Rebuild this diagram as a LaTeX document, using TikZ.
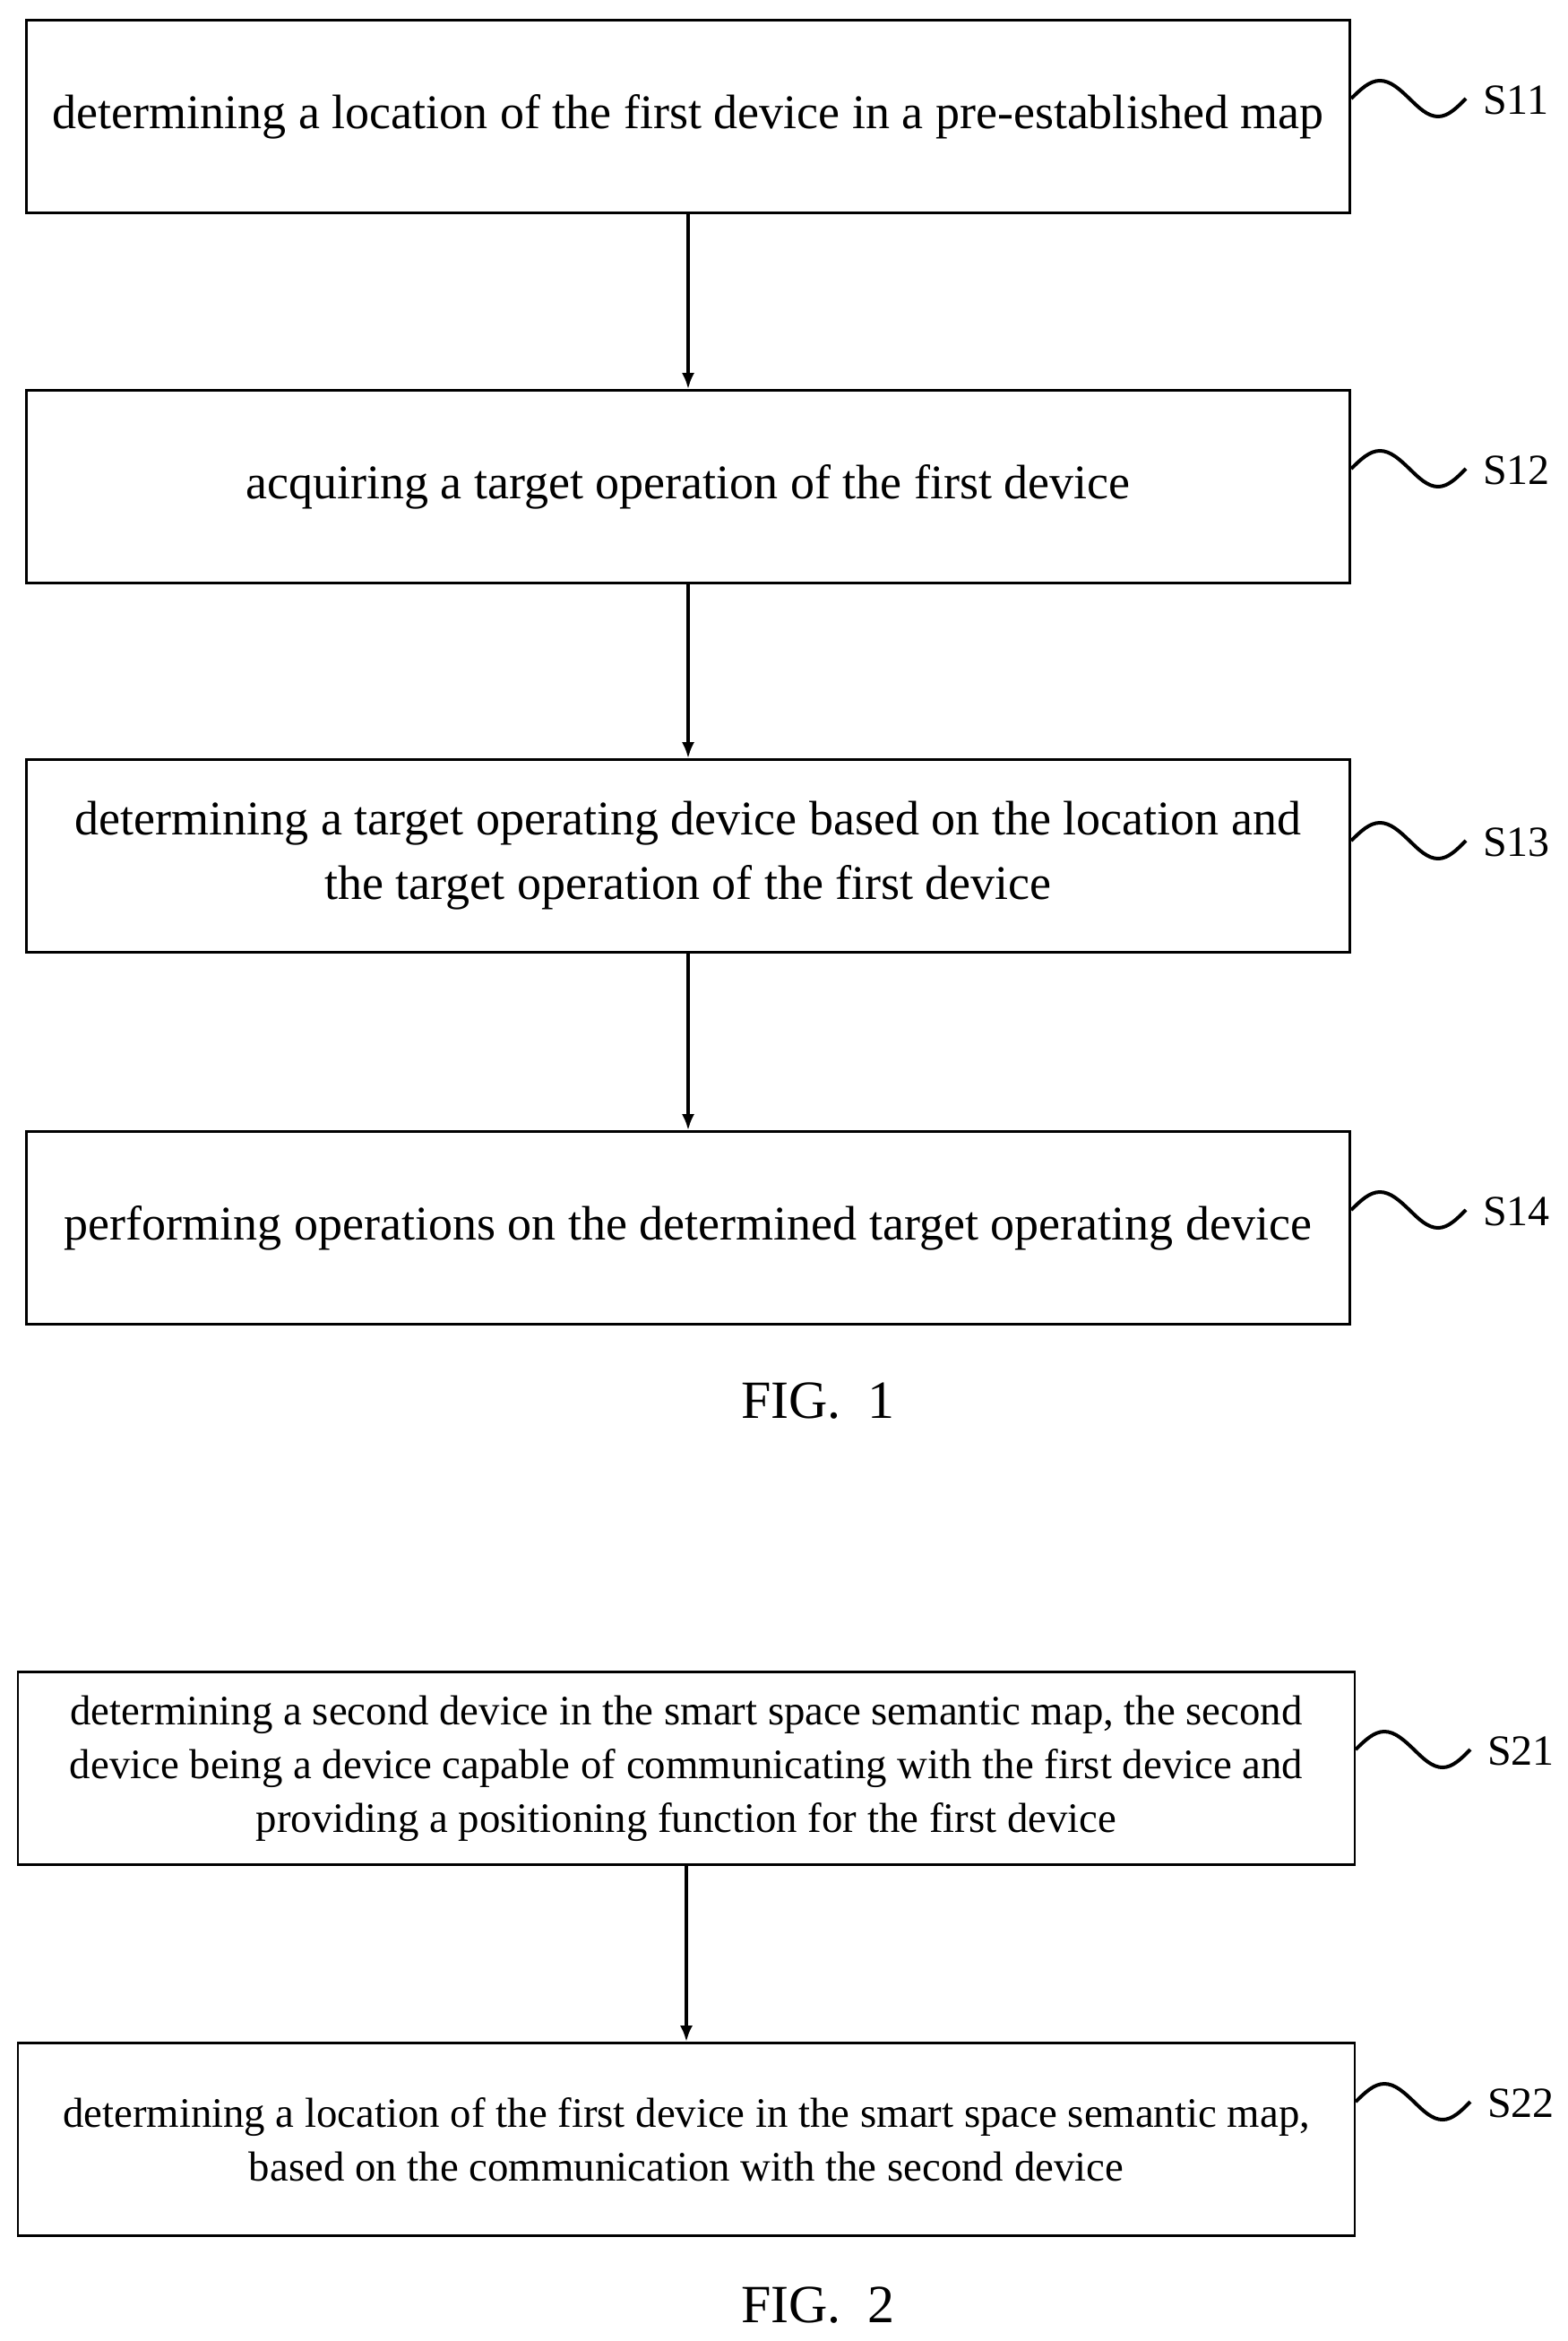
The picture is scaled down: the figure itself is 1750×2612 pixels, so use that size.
\documentclass[tikz,border=0pt]{standalone}
\usepackage{fontspec}
\usetikzlibrary{arrows.meta}
\setmainfont{Liberation Serif}
\begin{document}
\begin{tikzpicture}[x=0.5pt,y=-0.5pt,
 box/.style={draw,line width=1.3pt,minimum width=1477*0.5pt,minimum height=215*0.5pt,align=center,font=\fontsize{27}{36}\selectfont,inner sep=0pt},
 box2/.style={box,minimum width=1492*0.5pt,font=\fontsize{23.4}{30}\selectfont},
 arr/.style={-{Latex[length=9pt,width=7pt]},line width=1.8pt},
 lab/.style={font=\fontsize{24}{26}\selectfont,anchor=west},
 sq/.style={line width=2pt}]
\useasboundingbox (0,0) rectangle (1750,2612);
\node[box] (a) at (768,130) {determining a location of the first device in a pre-established map};
\node[box] (b) at (768,543) {acquiring a target operation of the first device};
\node[box] (c) at (768,955) {determining a target operating device based on the location and\\the target operation of the first device};
\node[box] (d) at (768,1370) {performing operations on the determined target operating device};
\node[font=\fontsize{30}{32}\selectfont] (f1) at (913,1563) {FIG.\ \ 1};
\node[box2] (e) at (766,1973) {determining a second device in the smart space semantic map, the second\\device being a device capable of communicating with the first device and\\providing a positioning function for the first device};
\node[box2] (g) at (766,2387) {determining a location of the first device in the smart space semantic map,\\based on the communication with the second device};
\node[font=\fontsize{30}{32}\selectfont] (f2) at (913,2572) {FIG.\ \ 2};
\draw[arr] (a) -- (b); \draw[arr] (b) -- (c); \draw[arr] (c) -- (d); \draw[arr] (e) -- (g);
\foreach \n/\x/\y/\t in {s1/1508/110/S11,s2/1508/523/S12,s3/1508/938/S13,s4/1508/1350/S14,s5/1513/1952/S21,s6/1513/2345/S22}{
 \coordinate (\n a) at (\x,\y);
 \draw[sq] (\n a) sin ++(32,-20) cos ++(33,20) sin ++(32,20) cos ++(31,-20);
 \node[lab] (\n l) at (\x+140,\y+2) {\t};
}
\end{tikzpicture}
\end{document}
